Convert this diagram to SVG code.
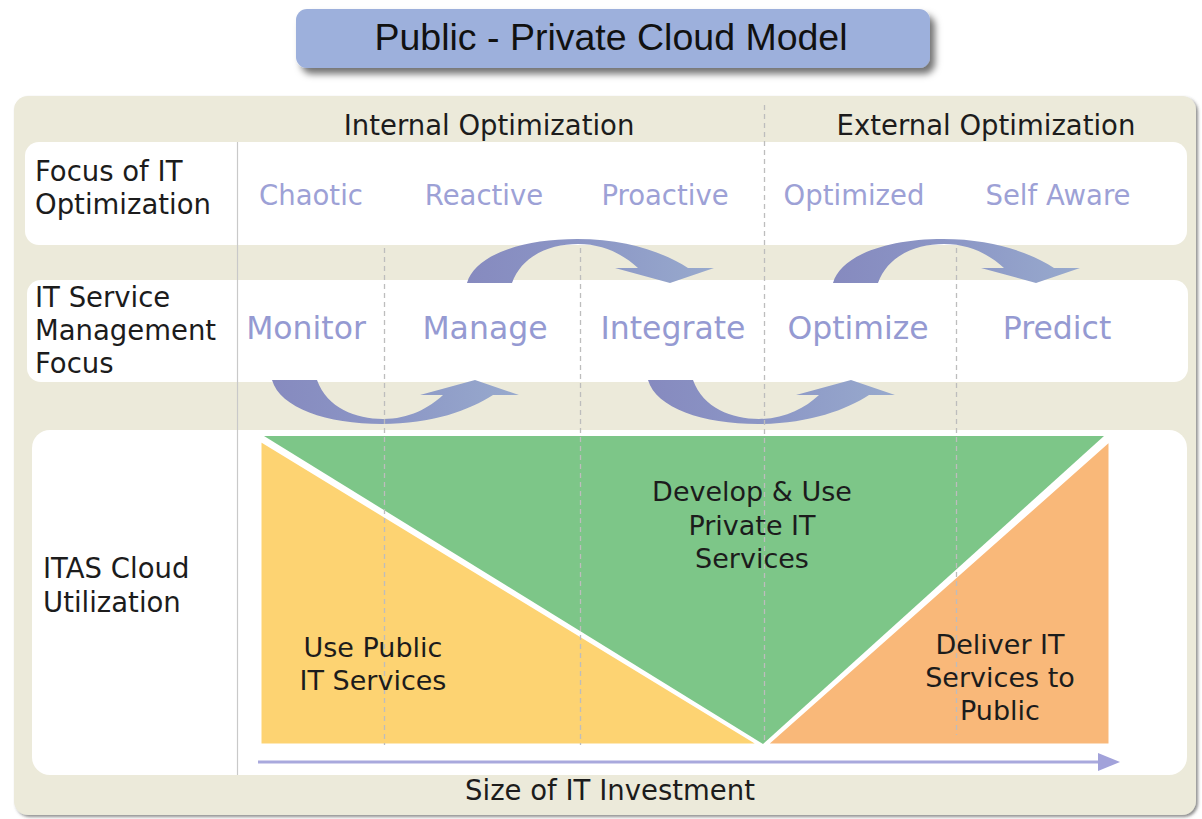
<svg xmlns="http://www.w3.org/2000/svg" width="1202" height="819" viewBox="0 0 1202 819">
<defs>
<style>
.lbl{font-family:"DejaVu Sans",Verdana,sans-serif;font-size:27.5px;fill:#1c1c1c}
.st1{font-family:"DejaVu Sans",Verdana,sans-serif;font-size:27.5px;fill:#9DA1D6;text-anchor:middle}
.st2{font-family:"DejaVu Sans",Verdana,sans-serif;font-size:31.5px;fill:#959AD2;text-anchor:middle}
.tri{font-family:"DejaVu Sans",Verdana,sans-serif;font-size:27px;fill:#1c1c1c;text-anchor:middle}
.row{fill:#ffffff}
.dash{stroke:#BDBDBD;stroke-width:1.3;stroke-dasharray:5 4;fill:none}
.arc{fill:url(#ag)}
</style>
<linearGradient id="ag" x1="0" y1="0" x2="1" y2="0">
<stop offset="0" stop-color="#868ABF"/>
<stop offset="0.5" stop-color="#8C97C6"/>
<stop offset="1" stop-color="#98AACD"/>
</linearGradient>
<filter id="tsh" x="-10%" y="-30%" width="125%" height="180%">
<feDropShadow dx="5" dy="6" stdDeviation="3.5" flood-color="#000" flood-opacity="0.55"/>
</filter>
<filter id="psh" x="-5%" y="-5%" width="110%" height="110%">
<feDropShadow dx="2" dy="2" stdDeviation="1.5" flood-color="#444" flood-opacity="0.6"/>
</filter>
<path id="arcshape" d="M 0,0 C 8,-28 55,-44 110,-44 C 160,-44 198,-30 221,-15 L 247,-15 L 203,0 L 148,-15 L 171,-15 C 157,-28 137,-39 111,-39 C 84,-39 55,-28 45,0 Z"/>
</defs>
<rect width="1202" height="819" fill="#ffffff"/>

<g id="panel">
<rect x="14" y="96" width="1182" height="719" rx="14" fill="#ECEADA" filter="url(#psh)"/>
</g>

<g id="title">
<rect x="296" y="9" width="634" height="59" rx="11" fill="#9DB0DC" filter="url(#tsh)"/>
<text x="611" y="50" font-family="'Liberation Sans',Arial,sans-serif" font-size="37.5" fill="#111" text-anchor="middle">Public - Private Cloud Model</text>
</g>

<g id="headers">
<text class="lbl" x="489" y="135" text-anchor="middle">Internal Optimization</text>
<text class="lbl" x="986" y="135" text-anchor="middle">External Optimization</text>
</g>

<g id="row-focus">
<rect class="row" x="25" y="142" width="1162" height="103" rx="14"/>
</g>
<g id="row-itsm">
<rect class="row" x="27" y="280" width="1161" height="102" rx="14"/>
</g>
<g id="row-itas">
<rect class="row" x="32" y="430" width="1155" height="345" rx="18"/>
</g>

<line x1="237.5" y1="142" x2="237.5" y2="775" stroke="#C9C9C9" stroke-width="1.2"/>

<g id="triangles">
<polygon points="264,436 1104,436 763,744" fill="#7DC688"/>
<polygon points="260,440 260,745 760,745" fill="#FDD372" stroke="#ffffff" stroke-width="3" stroke-linejoin="miter"/>
<polygon points="766,745 1110,745 1110,440" fill="#F9B879" stroke="#ffffff" stroke-width="3"/>
<rect x="255" y="745" width="860" height="6" fill="#ffffff"/>
</g>

<g id="connectors">
<use href="#arcshape" class="arc" transform="translate(467,283)"/>
<use href="#arcshape" class="arc" transform="translate(833,283)"/>
<use href="#arcshape" class="arc" transform="translate(272,380) scale(1,-1)"/>
<use href="#arcshape" class="arc" transform="translate(648,380) scale(1,-1)"/>
<line x1="258" y1="762" x2="1102" y2="762" stroke="#A9A9DD" stroke-width="3"/>
<polygon points="1098,753 1120,762 1098,771" fill="#A2A2DA"/>
</g>

<g id="dividers">
<line class="dash" x1="764.5" y1="105" x2="764.5" y2="742"/>
<line class="dash" x1="384.5" y1="248" x2="384.5" y2="745"/>
<line class="dash" x1="580.5" y1="248" x2="580.5" y2="745"/>
<line class="dash" x1="956.5" y1="248" x2="956.5" y2="735"/>
</g>

<g id="focus-labels">
<text class="lbl" x="35" y="181">Focus of IT</text>
<text class="lbl" x="35" y="214">Optimization</text>
<text class="st1" x="311" y="205">Chaotic</text>
<text class="st1" x="484" y="205">Reactive</text>
<text class="st1" x="665" y="205">Proactive</text>
<text class="st1" x="854" y="205">Optimized</text>
<text class="st1" x="1058" y="205">Self Aware</text>
</g>

<g id="itsm-labels">
<text class="lbl" x="35" y="307">IT Service</text>
<text class="lbl" x="35" y="340">Management</text>
<text class="lbl" x="35" y="373">Focus</text>
<text class="st2" x="306" y="339">Monitor</text>
<text class="st2" x="485" y="339">Manage</text>
<text class="st2" x="673" y="339">Integrate</text>
<text class="st2" x="858" y="339">Optimize</text>
<text class="st2" x="1057" y="339">Predict</text>
</g>

<g id="itas-labels">
<text class="lbl" x="43" y="578">ITAS Cloud</text>
<text class="lbl" x="43" y="612">Utilization</text>
</g>

<g id="public-services">
<text class="tri" x="373" y="657">Use Public</text>
<text class="tri" x="373" y="690">IT Services</text>
</g>
<g id="private-services">
<text class="tri" x="752" y="501">Develop &amp; Use</text>
<text class="tri" x="752" y="535">Private IT</text>
<text class="tri" x="752" y="568">Services</text>
</g>
<g id="deliver-services">
<text class="tri" x="1000" y="654">Deliver IT</text>
<text class="tri" x="1000" y="687">Services to</text>
<text class="tri" x="1000" y="720">Public</text>
</g>

<g id="axis-label">
<text class="lbl" x="610" y="800" text-anchor="middle">Size of IT Investment</text>
</g>
</svg>
